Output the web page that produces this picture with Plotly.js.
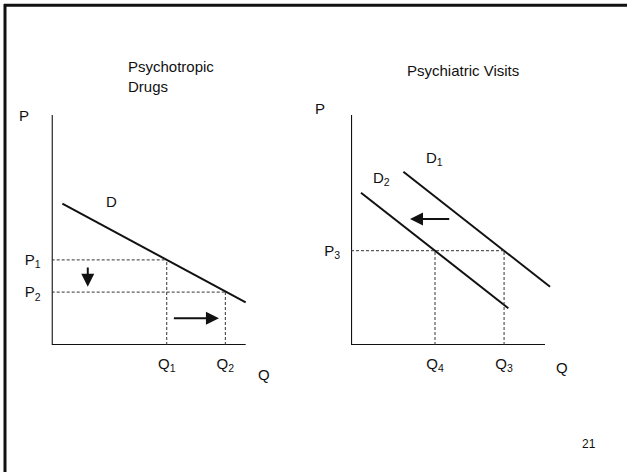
<!DOCTYPE html>
<html><head><meta charset="utf-8">
<script src="https://cdn.plot.ly/plotly-3.0.1.min.js"></script>
<style>html,body{margin:0;padding:0;background:#fff}</style>
</head><body><div id="chart" style="width:627px;height:472px"></div>
<script>
// ---- Left panel: psychotropic drugs ----
const drugDemandQ = [0.55, 10];
const drugDemandP = [6.15, 1.85];
const drugPriceLevels = [3.7, 2.3];          // P1, P2
const drugQuantities = [5.93, 8.95];         // Q1, Q2
const drugPriceLabels = ['P<sub>1</sub>', 'P<sub>2</sub>'];
const drugQuantityLabels = ['Q<sub>1</sub>', 'Q<sub>2</sub>'];
const drugPriceArrowQ = 1.86;                // price falls
const drugPriceArrowP = [3.43, 2.53];
const drugQtyArrowP = 1.16;                  // quantity rises
const drugQtyArrowQ = [6.22, 8.62];

// ---- Right panel: psychiatric visits ----
const visitDemand1Q = [2.7, 10.26];
const visitDemand1P = [7.53, 2.53];
const visitDemand2Q = [0.515, 8.11];
const visitDemand2P = [6.62, 1.6];
const visitPriceLevels = [4.1];              // P3
const visitPriceLabels = ['P<sub>3</sub>'];
const visitQuantities = [4.33, 7.89];        // Q4, Q3
const visitQuantityLabels = ['Q<sub>4</sub>', 'Q<sub>3</sub>'];
const visitShiftArrowP = 5.48;               // demand shifts left
const visitShiftArrowQ = [5.14, 3.04];

// Axes of each diagram (vertical P axis, horizontal Q axis)
const axisCornerQ = [0, 0, 10];
const axisCornerP = [10, 0, 0];

const W = 627, H = 472;
const INK = '#111';
const FONT = 'Liberation Sans, Arial, sans-serif';

function line(xs, ys, xa, ya, opts) {
  return Object.assign({type: 'scatter', mode: 'lines', x: xs, y: ys, xaxis: xa, yaxis: ya,
    hoverinfo: 'skip', showlegend: false,
    line: {color: INK, width: 2}}, opts || {});
}
const guide = {line: {color: '#333', width: 1, dash: '3px,2px'}};

const traces = [];
// left panel
traces.push(line(axisCornerQ, axisCornerP, 'x', 'y', {line: {color: INK, width: 2.2}}));
traces.push(line(drugDemandQ, drugDemandP, 'x', 'y'));
drugQuantities.forEach((q, i) => {
  const p = drugPriceLevels[i];
  traces.push(line([0, q], [p, p], 'x', 'y', guide));
  traces.push(line([q, q], [0, p], 'x', 'y', guide));
});
// right panel
traces.push(line(axisCornerQ, axisCornerP, 'x2', 'y2', {line: {color: INK, width: 2.2}}));
traces.push(line(visitDemand1Q, visitDemand1P, 'x2', 'y2'));
traces.push(line(visitDemand2Q, visitDemand2P, 'x2', 'y2'));
const p3 = visitPriceLevels[0];
traces.push(line([0, Math.max(...visitQuantities)], [p3, p3], 'x2', 'y2', guide));
visitQuantities.forEach(q => traces.push(line([q, q], [0, p3], 'x2', 'y2', guide)));

function arrow(xa, ya, tailQ, tailP, headQ, headP) {
  return {xref: xa, yref: ya, axref: xa, ayref: ya, x: headQ, y: headP, ax: tailQ, ay: tailP,
    text: '', showarrow: true, arrowhead: 2, arrowsize: 1.3, arrowwidth: 2, arrowcolor: INK,
    standoff: 0, startstandoff: 0};
}
function label(xa, ya, q, p, text, size) {
  return {xref: xa, yref: ya, x: q, y: p, text: text, showarrow: false,
    xanchor: 'center', yanchor: 'middle', font: {size: size || 15, color: INK, family: FONT}};
}
// text placed on the page by pixel position
function pageText(px, py, text, size, xanchor) {
  return {xref: 'paper', yref: 'paper', x: px / W, y: 1 - py / H, text: text, showarrow: false,
    xanchor: xanchor || 'center', yanchor: 'middle', align: 'left',
    font: {size: size || 15, color: INK, family: FONT}};
}

const annotations = [
  arrow('x', 'y', drugPriceArrowQ, drugPriceArrowP[0], drugPriceArrowQ, drugPriceArrowP[1]),
  arrow('x', 'y', drugQtyArrowQ[0], drugQtyArrowP, drugQtyArrowQ[1], drugQtyArrowP),
  arrow('x2', 'y2', visitShiftArrowQ[0], visitShiftArrowP, visitShiftArrowQ[1], visitShiftArrowP),
  label('x', 'y', 3.06, 6.26, 'D'),
  label('x2', 'y2', 4.28, 8.09, 'D<sub>1</sub>'),
  label('x2', 'y2', 1.55, 7.26, 'D<sub>2</sub>'),
  pageText(24, 115, 'P', 15),
  pageText(263.5, 374, 'Q', 15),
  pageText(320, 108.5, 'P', 15),
  pageText(562, 367, 'Q', 15),
  pageText(126, 76, 'Psychotropic<br>Drugs', 15, 'left'),
  pageText(463, 70, 'Psychiatric Visits', 15),
  pageText(589, 444, '21', 12)
];

const tickFont = {size: 15, color: INK, family: FONT};
function qAxis(domain, anchor, vals, text) {
  return {domain: domain, anchor: anchor, range: [0, 11], tickvals: vals, ticktext: text,
    showgrid: false, zeroline: false, showline: false, ticks: '', ticklabelstandoff: 8,
    tickfont: tickFont, fixedrange: true};
}
function pAxis(domain, anchor, vals, text) {
  return {domain: domain, anchor: anchor, range: [0, 10.5], tickvals: vals, ticktext: text,
    showgrid: false, zeroline: false, showline: false, ticks: '', ticklabelstandoff: 10,
    tickfont: tickFont, fixedrange: true};
}
const yDom = [127 / H, (127 + 23 * 10.5) / H];

const layout = {
  width: W, height: H,
  margin: {l: 0, r: 0, t: 0, b: 0},
  paper_bgcolor: '#fff', plot_bgcolor: 'rgba(0,0,0,0)',
  showlegend: false,
  xaxis: qAxis([51.7 / W, (51.7 + 19.4 * 11) / W], 'y', drugQuantities, drugQuantityLabels),
  yaxis: pAxis(yDom, 'x', drugPriceLevels, drugPriceLabels),
  xaxis2: qAxis([351 / W, (351 + 19.4 * 11) / W], 'y2', visitQuantities, visitQuantityLabels),
  yaxis2: pAxis(yDom, 'x2', visitPriceLevels, visitPriceLabels),
  annotations: annotations,
  shapes: [
    {type: 'line', xref: 'paper', yref: 'paper', x0: 4 / W, x1: 1, y0: 1 - 5.3 / H, y1: 1 - 5.3 / H,
     line: {color: INK, width: 3}},
    {type: 'line', xref: 'paper', yref: 'paper', x0: 5 / W, x1: 5 / W, y0: 0, y1: 1 - 4 / H,
     line: {color: INK, width: 3}}
  ]
};

Plotly.newPlot('chart', traces, layout, {staticPlot: true, displayModeBar: false});
</script>
</body></html>
